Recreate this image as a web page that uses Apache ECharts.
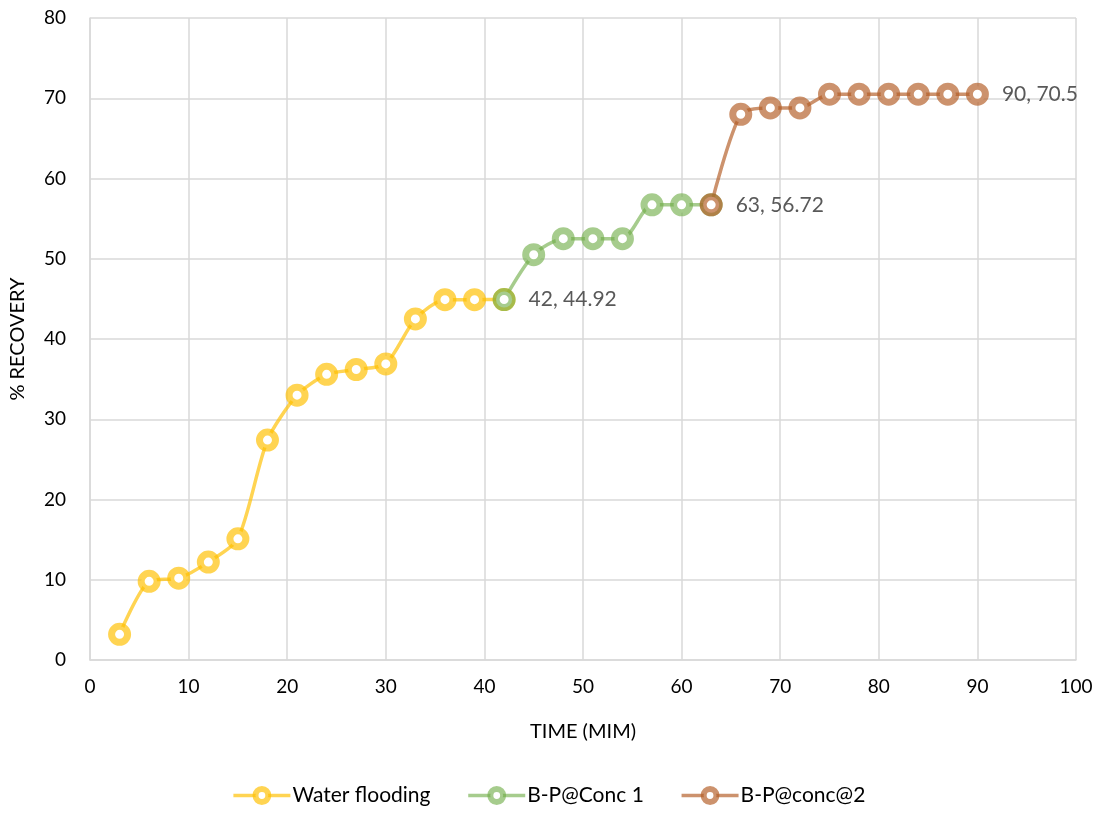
<!DOCTYPE html>
<html><head><meta charset="utf-8">
<script src="https://cdn.jsdelivr.net/npm/echarts@6/dist/echarts.min.js"></script>
<style>html,body{margin:0;padding:0;background:#fff}#c{width:1097px;height:815px}</style>
</head><body><div id="c"></div>
<script>
const timeWater = [3,6,9,12,15,18,21,24,27,30,33,36,39,42];
const recWater = [3.2,9.8,10.2,12.2,15.1,27.4,33.0,35.6,36.2,36.9,42.5,44.9,44.9,44.92];
const timeConc1 = [42,45,48,51,54,57,60,63];
const recConc1 = [44.92,50.5,52.5,52.5,52.5,56.72,56.72,56.72];
const timeConc2 = [63,66,69,72,75,78,81,84,87,90];
const recConc2 = [56.72,68.0,68.8,68.8,70.5,70.5,70.5,70.5,70.5,70.5];
const seriesNames = ['Water flooding','B-P@Conc 1','B-P@conc@2'];
const xTicks = [0,10,20,30,40,50,60,70,80,90,100];
const yTicks = [0,10,20,30,40,50,60,70,80];

const FONT = 'Lato';
const colors = ['rgba(255,192,0,0.68)','rgba(112,173,71,0.62)','rgba(180,95,40,0.68)'];
function pairs(xs, ys){return xs.map((x,i)=>[x,ys[i]]);}
function mk(name, xs, ys, color, labelIdx){
  return {
    name, type:'line', smooth:0.25, data: pairs(xs,ys).map((p,i)=>{
      const d={value:p};
      if(labelIdx.includes(i)) d.label={show:true,position:'right',distance:13,
        formatter:(o)=>o.value[0]+', '+o.value[1],color:'#595959',fontSize:21,fontFamily:FONT};
      return d;
    }),
    symbol:'circle', symbolSize:16,
    lineStyle:{color, width:3.5},
    itemStyle:{color:'#fff', borderColor:color, borderWidth:7},
    emphasis:{disabled:true}, z:2
  };
}
const chart = echarts.init(document.getElementById('c'),null,{renderer:'canvas'});
chart.setOption({
  animation:false,
  grid:{left:90,top:18,right:21,bottom:155,containLabel:false,outerBoundsMode:'none'},
  xAxis:{type:'value',min:0,max:100,interval:10,
    name:'TIME (MIM)',nameLocation:'middle',nameGap:62,
    nameTextStyle:{fontSize:20,color:'#000',fontFamily:FONT},
    axisLine:{show:true,lineStyle:{color:'#d9d9d9',width:1.5}},axisTick:{show:false},
    axisLabel:{fontSize:19,color:'#000',fontFamily:FONT,margin:17,
      formatter:(v)=>xTicks.includes(v)?String(v):''},
    splitLine:{show:true,lineStyle:{color:'#d9d9d9',width:1.5}}},
  yAxis:{type:'value',min:0,max:80,interval:10,
    name:'% RECOVERY',nameLocation:'middle',nameGap:62,nameRotate:90,
    nameTextStyle:{fontSize:20,color:'#000',fontFamily:FONT},
    axisLine:{show:true,lineStyle:{color:'#d9d9d9',width:1.5}},axisTick:{show:false},
    axisLabel:{fontSize:19,color:'#000',fontFamily:FONT,margin:24,
      formatter:(v)=>yTicks.includes(v)?String(v):''},
    splitLine:{show:true,lineStyle:{color:'#d9d9d9',width:1.5}}},
  legend:{bottom:4,left:'center',itemWidth:57,itemHeight:16,itemGap:36,
    textStyle:{fontSize:21,color:'#000',fontFamily:FONT,padding:[0,0,0,-3]},
    itemStyle:{borderWidth:6},
    lineStyle:{width:3.5},
    data:seriesNames},
  series:[
    mk(seriesNames[0],timeWater,recWater,colors[0],[]),
    mk(seriesNames[1],timeConc1,recConc1,colors[1],[0]),
    mk(seriesNames[2],timeConc2,recConc2,colors[2],[0,9])
  ]
});
</script></body></html>
